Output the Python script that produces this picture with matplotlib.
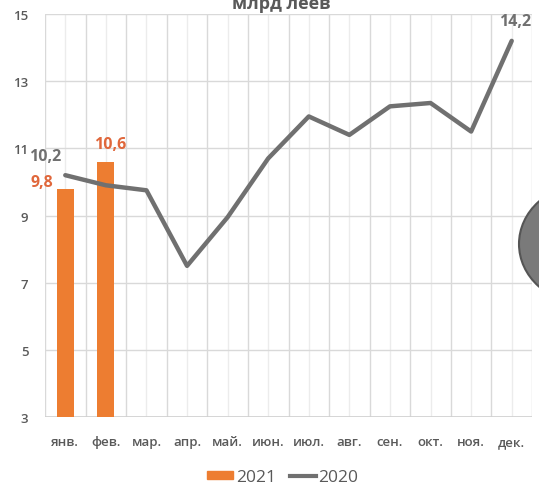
import matplotlib.pyplot as plt
import numpy as np
from matplotlib.patches import Patch, Circle
from matplotlib.lines import Line2D

plt.rcParams['font.family'] = ['Open Sans', 'DejaVu Sans']

months = ['янв.', 'фев.', 'мар.', 'апр.', 'май.', 'июн.', 'июл.', 'авг.', 'сен.', 'окт.', 'ноя.', 'дек.']
vals_2021 = [9.8, 10.6]
vals_2020 = [10.2, 9.9, 9.75, 7.5, 8.95, 10.7, 11.95, 11.4, 12.25, 12.35, 11.5, 14.2]
yticks = [3, 5, 7, 9, 11, 13, 15]

orange = '#ED7D31'
grey = '#707070'
txt = '#595959'

fig = plt.figure(figsize=(5.39, 4.85), dpi=100)
ax = fig.add_axes([45/539, 1-418/485, (532-45)/539, (418-15)/485])

x = np.arange(len(months))
ax.bar(x[:len(vals_2021)], vals_2021, width=0.42, color=orange, zorder=2)
ax.plot(x, vals_2020, color=grey, lw=3.2, solid_capstyle='round', zorder=3)

ax.set_xlim(-0.5, 11.5)
ax.set_ylim(3, 15)
ax.set_yticks(yticks)
ax.set_xticks(x)
ax.set_xticklabels(months)
ax.set_xticks(np.arange(-0.5, 12, 1), minor=True)
ax.grid(True, which='major', axis='y', color='#d9d9d9', lw=1)
ax.grid(True, which='minor', axis='x', color='#d9d9d9', lw=1)
for xi in x:
    ax.axvline(xi, color='#ececec', lw=1, zorder=0)
ax.set_axisbelow(True)
for s in ax.spines.values():
    s.set_visible(False)
ax.axhline(3, color='#d0d0d0', lw=1.2, zorder=1)
ax.tick_params(axis='both', which='both', length=0, colors=txt, labelsize=9.5)
ax.tick_params(axis='x', pad=13)
ax.tick_params(axis='y', pad=12)
for lab in ax.get_yticklabels() + ax.get_xticklabels():
    lab.set_fontweight('semibold')

# data labels
ax.text(-0.57, 10.0, '9,8', color='#E0673B', fontsize=11.5,
        fontweight='bold', ha='center', va='center')
ax.text(1.1, 11.13, '10,6', color='#E0673B', fontsize=11.5,
        fontweight='bold', ha='center', va='center')
ax.text(-0.5, 10.77, '10,2', color=grey, fontsize=11.5,
        fontweight='bold', ha='center', va='center')
ax.text(11.08, 14.8, '14,2', color=grey, fontsize=11.5,
        fontweight='bold', ha='center', va='center')

fig.text(281/539, 1 - 9/485, 'млрд леев', color=txt, fontsize=13,
         fontweight='bold', ha='center', va='baseline')

# decorative circle cut off at right edge
circ = Circle((585/539, 1 - 245/485), 66/539, transform=fig.transFigure,
              facecolor='#7a7a7a', edgecolor='#555555', lw=1.5, zorder=5)
fig.patches.append(circ)

handles = [Patch(color=orange, label='2021'),
           Line2D([0], [0], color=grey, lw=3, label='2020')]
fig.legend(handles=handles, loc='center', bbox_to_anchor=(283/539, 1 - 478/485),
           ncol=2, frameon=False, fontsize=12.5, labelcolor=txt,
           handlelength=1.5, handleheight=0.35, handletextpad=0.15,
           columnspacing=0.8)

fig.savefig('out.png', dpi=100)
